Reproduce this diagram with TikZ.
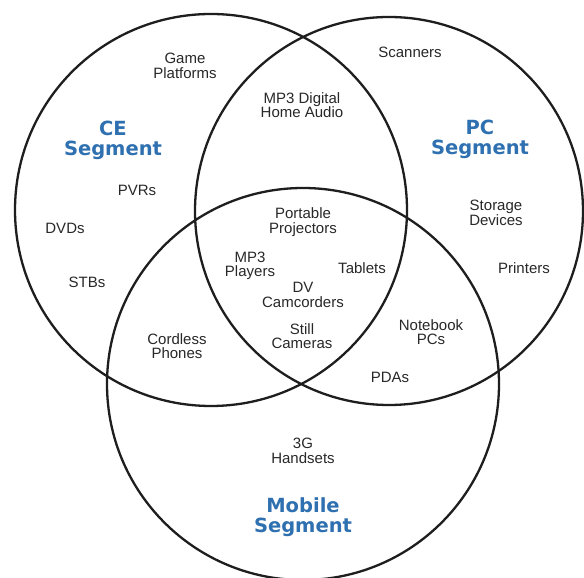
\documentclass[tikz,border=0pt]{standalone}
\usepackage{fontspec}
\setmainfont{Liberation Sans}
\newfontfamily\titlefont{DejaVu Sans}
\definecolor{ringcol}{RGB}{30,30,30}
\definecolor{labelgray}{RGB}{40,40,40}
\definecolor{segblue}{RGB}{46,112,176}
\begin{document}
\begin{tikzpicture}[x=1pt,y=1pt,
  ring/.style={draw=ringcol,line width=2.3pt,circle,minimum size=#1,inner sep=0},
  lbl/.style={font=\fontsize{15}{14.5}\selectfont,text=labelgray,align=center,inner sep=0},
  seg/.style={font=\titlefont\bfseries\fontsize{19.5}{20}\selectfont,text=segblue,align=center,inner sep=0}]
\useasboundingbox (0,0) rectangle (584,578);
\fill[white] (0,0) rectangle (584,578);
\node[ring=392pt] (ce) at (211,368) {};
\node[ring=388pt] (pc) at (389,367) {};
\node[ring=392pt] (mob) at (303,194) {};
% CE
\node[lbl] (game) at (185,512) {Game\\Platforms};
\node[seg] (ceseg) at (113,438) {CE\\Segment};
\node[lbl] (pvr) at (137,388) {PVRs};
\node[lbl] (dvd) at (65,350) {DVDs};
\node[lbl] (stb) at (87,296) {STBs};
% CE & PC
\node[lbl] (mp3home) at (302,473) {MP3 Digital\\Home Audio};
% PC
\node[lbl] (scan) at (410,526) {Scanners};
\node[seg] (pcseg) at (480,439) {PC\\Segment};
\node[lbl] (stor) at (496,365) {Storage\\Devices};
\node[lbl] (print) at (524,310) {Printers};
% center
\node[lbl] (proj) at (303,356) {Portable\\Projectors};
\node[lbl] (mp3p) at (250,312) {MP3\\Players};
\node[lbl] (tab) at (362,310) {Tablets};
\node[lbl] (dv) at (303,283) {DV\\Camcorders};
\node[lbl] (still) at (302,242) {Still\\Cameras};
% CE & Mobile
\node[lbl] (cord) at (177,232) {Cordless\\Phones};
% PC & Mobile
\node[lbl] (note) at (431,246) {Notebook\\PCs};
\node[lbl] (pda) at (390,201) {PDAs};
% Mobile
\node[lbl] (hand) at (303,127) {3G\\Handsets};
\node[seg] (mobseg) at (303,61) {Mobile\\Segment};
\end{tikzpicture}
\end{document}
